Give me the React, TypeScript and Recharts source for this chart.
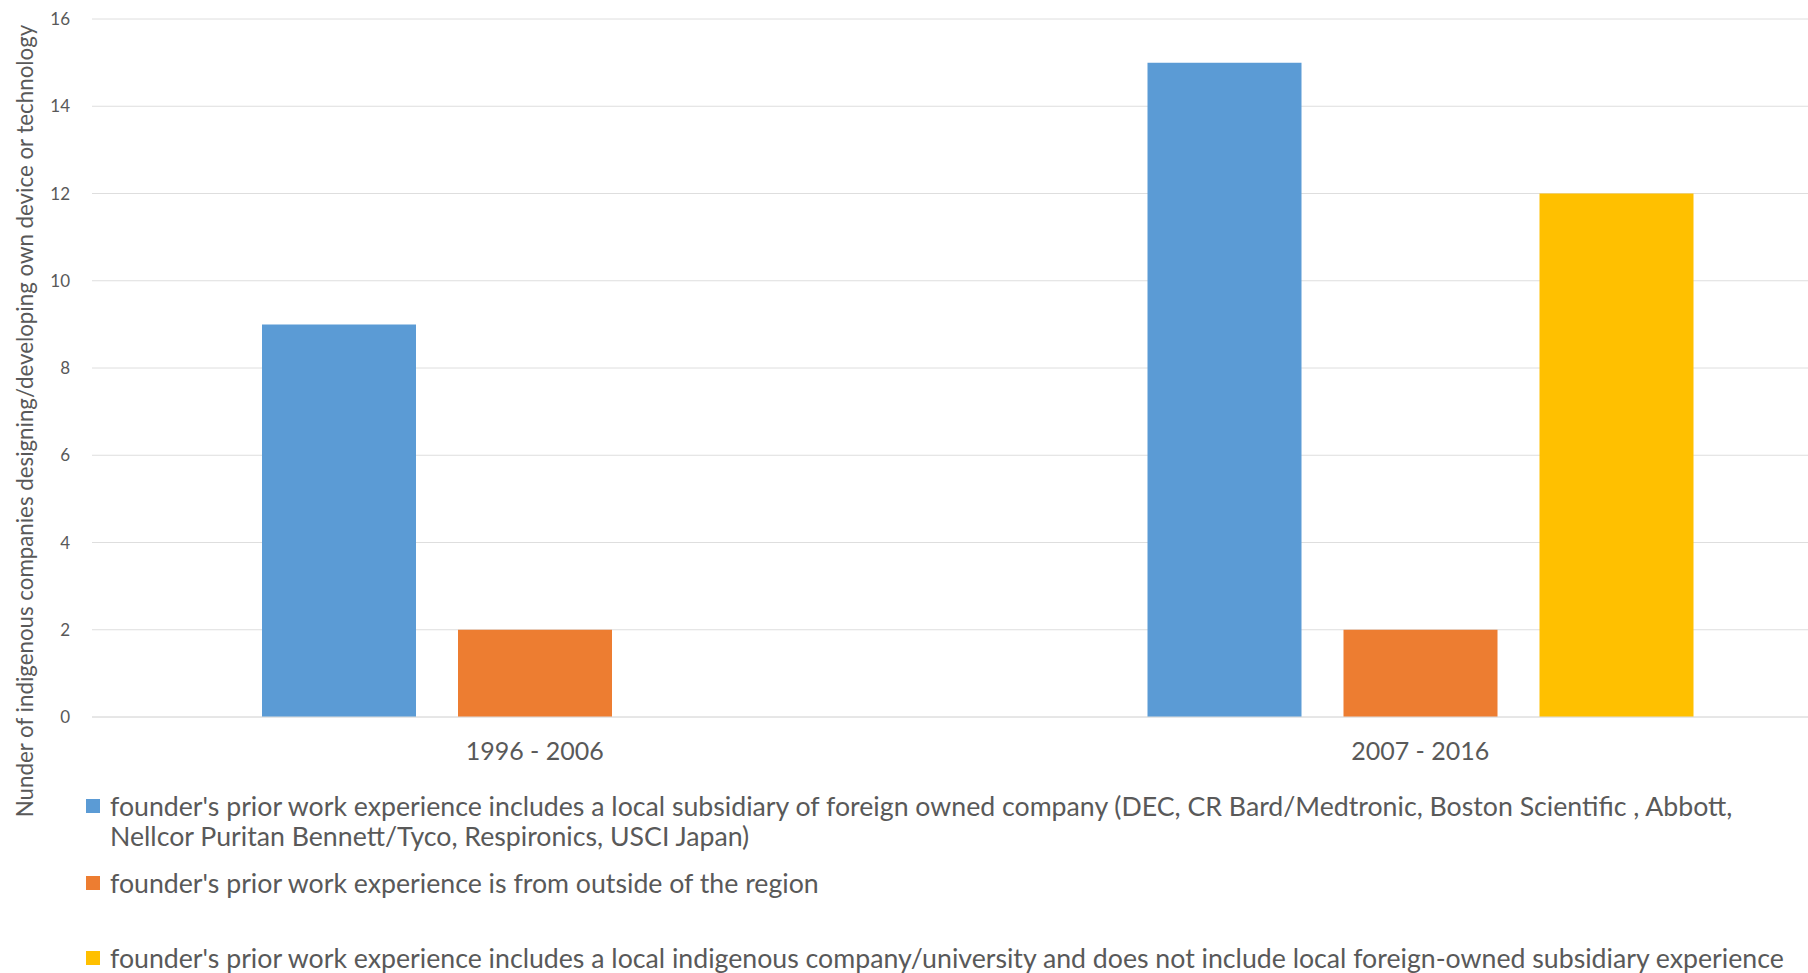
import { Bar, BarChart, CartesianGrid, Legend, XAxis, YAxis } from "recharts";

const periods = ["1996 - 2006", "2007 - 2016"];
const foreignSubsidiary = [9, 15];
const outsideRegion = [2, 2];
const localIndigenous = [null, 12];
const yTicks = [0, 2, 4, 6, 8, 10, 12, 14, 16];
const seriesNames = [
  "founder's prior work experience includes a local subsidiary of foreign owned company (DEC, CR Bard/Medtronic, Boston Scientific , Abbott, Nellcor Puritan Bennett/Tyco, Respironics, USCI Japan)",
  "founder's prior work experience is from outside of the region",
  "founder's prior work experience includes a local indigenous company/university and does not include local foreign-owned subsidiary experience",
];
const seriesColors = ["#5B9BD5", "#ED7D31", "#FFC000"];
const yTitle =
  "Nunder of indigenous companies designing/developing own device or technology";

const data = periods.map((period, i) => ({
  period,
  s0: foreignSubsidiary[i],
  s1: outsideRegion[i],
  s2: localIndigenous[i],
}));

const FONT = "Lato, 'Open Sans', sans-serif";
const TEXT = "#595959";

// tops of the legend rows, relative to the legend box
const legendTops = [1, 78, 153];

function LegendBox({ payload }: any) {
  // keep series order, not the alphabetical order recharts hands over
  const items = [...(payload || [])].sort(
    (a: any, b: any) => seriesNames.indexOf(a.value) - seriesNames.indexOf(b.value)
  );
  return (
    <div
      style={{
        position: "relative",
        width: 1808,
        height: 182,
        fontFamily: FONT,
        fontSize: 26.7,
        lineHeight: "30px",
        color: TEXT,
      }}
    >
      {items.map((item: any, i: number) => (
        <div
          key={i}
          style={{
            position: "absolute",
            left: 86,
            top: legendTops[i],
            display: "flex",
            alignItems: "flex-start",
          }}
        >
          <span
            style={{
              width: 14,
              height: 14,
              background: item.color,
              marginTop: 8,
              marginRight: 10,
              flexShrink: 0,
            }}
          />
          <span style={{ width: 1705 }}>{item.value}</span>
        </div>
      ))}
    </div>
  );
}

function YTitle() {
  return (
    <text
      x={33}
      y={421}
      transform="rotate(-90 33 421)"
      textAnchor="middle"
      fill={TEXT}
      fontFamily={FONT}
      fontSize={22.3}
    >
      {yTitle}
    </text>
  );
}

export default function App() {
  return (
    <div
      style={{
        position: "fixed",
        left: 0,
        top: 0,
        width: 1808,
        height: 973,
        overflow: "hidden",
        background: "#fff",
      }}
    >
      <BarChart
        width={1870}
        height={973}
        data={data}
        margin={{ top: 19, right: 7, bottom: 196, left: 0 }}
        barCategoryGap={170}
        barGap={42}
      >
        <CartesianGrid vertical={false} stroke="#dedede" />
        <XAxis
          dataKey="period"
          height={60}
          axisLine={{ stroke: "#dedede" }}
          tickLine={false}
          tickSize={0}
          tickMargin={25}
          tick={{ fill: TEXT, fontSize: 25, fontFamily: FONT }}
        />
        <YAxis
          width={92}
          domain={[0, 16]}
          ticks={yTicks}
          axisLine={false}
          tickLine={false}
          tickSize={0}
          tickMargin={22}
          tick={{ fill: TEXT, fontSize: 17, fontFamily: FONT }}
          label={{ content: () => <YTitle /> }}
        />
        <Legend
          layout="horizontal"
          verticalAlign="middle"
          align="center"
          wrapperStyle={{ left: 0, top: 790, width: 1808 }}
          content={<LegendBox />}
        />
        <Bar dataKey="s0" name={seriesNames[0]} fill={seriesColors[0]} isAnimationActive={false} />
        <Bar dataKey="s1" name={seriesNames[1]} fill={seriesColors[1]} isAnimationActive={false} />
        <Bar dataKey="s2" name={seriesNames[2]} fill={seriesColors[2]} isAnimationActive={false} />
      </BarChart>
    </div>
  );
}
